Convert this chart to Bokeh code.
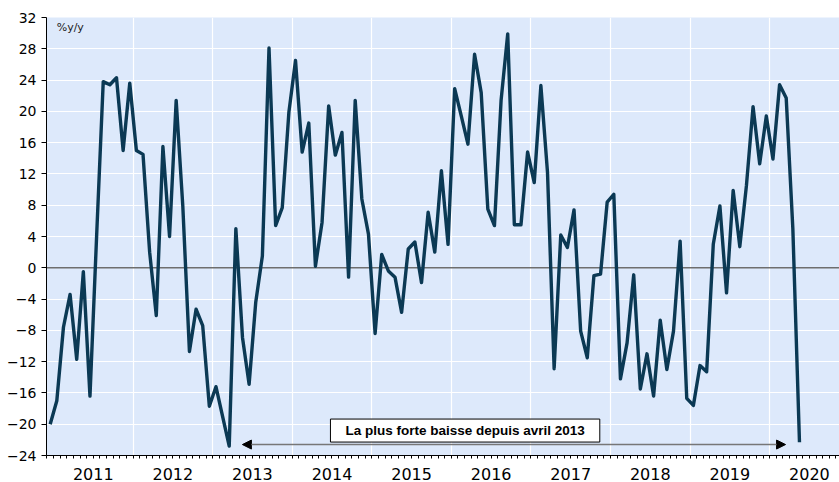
import pandas as pd
from bokeh.plotting import figure
from bokeh.models import (LinearAxis, FixedTicker, Grid, Span, Arrow, NormalHead,
                          Label, Range1d, ColumnDataSource)
from bokeh.embed import file_html
from bokeh.resources import INLINE

# ---- data (monthly, % y/y), first observation Dec 2010 ----
start_date = "2010-12-01"
values = [
    -20.0, -17.0, -7.6, -3.4, -11.7, -0.5, -16.4, 4.0, 23.8, 23.4, 24.3, 15.0,
    23.6, 15.0, 14.5, 2.0, -6.1, 15.5, 4.0, 21.4, 7.9, -10.7, -5.3, -7.4,
    -17.7, -15.2, -19.0, -22.8, 5.0, -8.9, -14.9, -4.4, 1.5, 28.1, 5.4, 7.7,
    19.9, 26.5, 14.8, 18.5, 0.2, 5.8, 20.7, 14.4, 17.3, -1.2, 21.4, 8.8,
    4.3, -8.4, 1.7, -0.4, -1.2, -5.7, 2.4, 3.3, -1.9, 7.1, 2.0, 12.4,
    3.0, 22.9, 19.4, 15.8, 27.3, 22.4, 7.5, 5.4, 21.4, 29.9, 5.5, 5.5,
    14.8, 10.9, 23.3, 12.2, -12.9, 4.2, 2.6, 7.4, -8.1, -11.5, -1.0, -0.8,
    8.4, 9.4, -14.2, -9.6, -0.9, -15.5, -11.0, -16.4, -6.7, -13.0, -8.1, 3.4,
    -16.7, -17.6, -12.5, -13.3, 3.0, 7.9, -3.2, 9.9, 2.7, 10.5, 20.6, 13.3,
    19.4, 13.9, 23.4, 21.7, 5.0, -22.3,
]
years = [2011, 2012, 2013, 2014, 2015, 2016, 2017, 2018, 2019, 2020]
year_labels = [str(y) for y in years]
y_ticks = [-24, -20, -16, -12, -8, -4, 0, 4, 8, 12, 16, 20, 24, 28, 32]
unit_text = "%y/y"
note_text = "La plus forte baisse depuis avril 2013"

dates = pd.date_range(start_date, periods=len(values), freq="MS")
xpos = list(dates.year + (dates.month - 0.5) / 12.0)
src = ColumnDataSource(dict(x=xpos, y=values))

BG = "#DDE9FB"
LINE = "#0B3954"
FONT = "DejaVu Sans"
Y0, Y1 = y_ticks[0], y_ticks[-1]

p = figure(width=839, height=482, output_backend="svg", toolbar_location=None,
           x_axis_type=None,
           x_range=Range1d(2010.912, 2020.878), y_range=Range1d(Y0, Y1),
           min_border_left=46, min_border_right=0, min_border_top=17,
           min_border_bottom=0, background_fill_color=BG,
           border_fill_color="white", outline_line_color=None)

# y axis
ya = p.yaxis[0]
ya.ticker = FixedTicker(ticks=y_ticks)
ya.axis_line_color = "black"
ya.major_tick_line_color = "black"
ya.major_tick_out = 5
ya.major_tick_in = 0
ya.minor_tick_line_color = None
ya.major_label_standoff = 5
ya.major_label_text_font = FONT
ya.major_label_text_font_size = "14px"
ya.major_label_text_color = "black"
p.ygrid.grid_line_color = "white"
p.ygrid.grid_line_width = 1.2

# x axis: year labels centred on each year, short monthly ticks
mid = [y + 0.5 for y in years]
month_ticks = [years[0] - 1 + k / 12.0 for k in range(0, 12 * (len(years) + 1) + 1)]
axB = LinearAxis(ticker=FixedTicker(ticks=mid, minor_ticks=month_ticks),
                 major_label_overrides={m: lab for m, lab in zip(mid, year_labels)})
axB.axis_line_color = "black"
axB.major_tick_line_color = None
axB.major_tick_out = 0
axB.major_tick_in = 0
axB.minor_tick_line_color = "black"
axB.minor_tick_out = 3
axB.minor_tick_in = 0
axB.major_label_standoff = 9
axB.major_label_text_font = FONT
axB.major_label_text_font_size = "16px"
axB.major_label_text_color = "black"
p.add_layout(axB, "below")

# longer ticks at year boundaries (tick-only axis drawn at the frame bottom)
axA = LinearAxis(ticker=FixedTicker(ticks=[], minor_ticks=years + [years[-1] + 1]),
                 fixed_location=Y0)
axA.axis_line_color = None
axA.major_tick_line_color = None
axA.minor_tick_line_color = "black"
axA.minor_tick_out = 6
axA.minor_tick_in = 0
p.add_layout(axA, "below")

# vertical grid at year boundaries
p.add_layout(Grid(dimension=0, ticker=FixedTicker(ticks=years[1:]),
                  grid_line_color="white", grid_line_width=1.2))

# zero line
p.add_layout(Span(location=0, dimension="width", line_color="#6E6E6E",
                  line_width=1.5, level="underlay"))

p.line("x", "y", source=src, line_color=LINE, line_width=3.4, line_join="round")

# annotations
p.add_layout(Label(x=2011.04, y=31.6, text=unit_text, text_font=FONT,
                   text_font_size="11px", text_baseline="top", text_align="left",
                   text_color="#222222"))

p.add_layout(Arrow(x_start=2013.374, y_start=-22.6, x_end=2020.2, y_end=-22.6,
                   line_color="#777777", line_width=1.5,
                   start=NormalHead(size=9, fill_color="black", line_color="black"),
                   end=NormalHead(size=9, fill_color="black", line_color="black")))

p.add_layout(Label(x=2016.173, y=-20.81, text=note_text,
                   text_font="Liberation Sans", text_font_style="bold",
                   text_font_size="13.5px", text_align="center",
                   text_baseline="middle", text_color="black",
                   background_fill_color="white", border_line_color="black",
                   border_line_width=1, padding=dict(x=15, y=4)))

open("out.html", "w").write(file_html(p, INLINE))
